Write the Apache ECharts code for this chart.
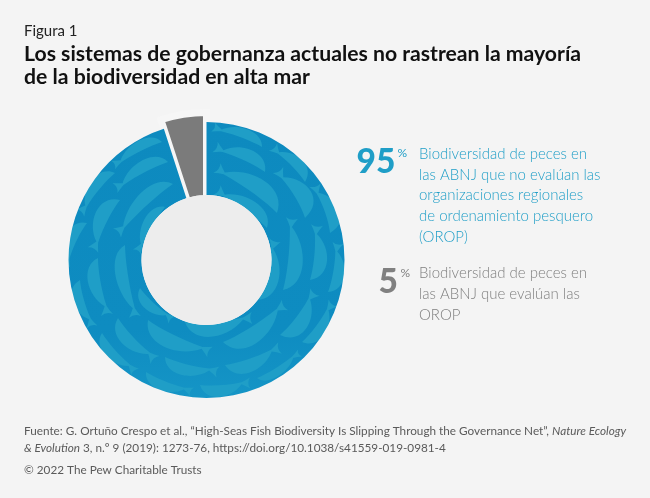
<!DOCTYPE html>
<html><head><meta charset="utf-8">
<style>html,body{margin:0;padding:0;background:#f4f4f4}#c{width:650px;height:498px}</style>
<script src="https://cdn.jsdelivr.net/npm/echarts@6/dist/echarts.min.js"></script>
</head><body><div id="c"></div>
<script>
const categories = ['No evaluada por OROP', 'Evaluada por OROP'];
const shares = [95, 5];
const figureLabel = 'Figura 1';
const titleLines = ['Los sistemas de gobernanza actuales no rastrean la mayoría', 'de la biodiversidad en alta mar'];
const blueLines = ['Biodiversidad de peces en', 'las ABNJ que no evalúan las', 'organizaciones regionales', 'de ordenamiento pesquero', '(OROP)'];
const greyLines = ['Biodiversidad de peces en', 'las ABNJ que evalúan las', 'OROP'];
const sourceLine1 = ['Fuente: G. Ortuño Crespo et al., “High-Seas Fish Biodiversity Is Slipping Through the Governance Net”, ', 'Nature Ecology'];
const sourceLine2 = ['& Evolution', ' 3, n.º 9 (2019): 1273-76, https://doi.org/10.1038/s41559-019-0981-4'];
const copyright = '© 2022 The Pew Charitable Trusts';

const BG = '#f4f4f4', FISH = '#1f9ec7', GREY = '#7b7b7b', HOLE = '#ededed';
const CX = 206.5, CY = 260;

// Decorative school of fish texture: [noseX, noseY, tailX, tailY, bodyWidth]
const fish = [
[162,142,113,165,12],[168,162,115,188,14],[173,184,117,233,16],[115,173,80,213,14],[120,200,93,250,17],
[87,223,65,265,14],[125,245,135,317,15],[165,207,137,252,12],[98,258,107,315,15],[80,280,92,327,14],
[118,318,155,360,15],[102,333,135,372,13],[148,320,210,352,18],[165,357,218,372,14],[146,372,192,392,12],
[140,288,172,320,12],[200,385,250,383,14],[185,322,252,318,18],[223,342,285,305,20],[225,365,280,348,16],
[257,378,300,353,10],[280,335,315,292,18],[302,342,333,303,14],[283,290,292,218,18],[310,280,317,225,16],
[328,292,338,243,14],[255,300,275,240,18],[265,172,215,147,15],[277,213,217,168,20],[267,228,217,190,15],
[262,147,213,127,12],[305,182,273,147,14],[305,218,278,170,20],[330,233,315,185,18]
];

function makeTexture() {
  const cv = document.createElement('canvas');
  cv.width = 650; cv.height = 498;
  const g = cv.getContext('2d');
  const grad = g.createLinearGradient(0, 122, 0, 398);
  grad.addColorStop(0, '#0d8abf'); grad.addColorStop(0.75, '#0e8cc1'); grad.addColorStop(1, '#1595c6');
  g.fillStyle = grad; g.fillRect(0, 0, 650, 498);
  g.fillStyle = FISH;
  fish.forEach(([nx, ny, tx, ty, w]) => {
    const dx = tx - nx, dy = ty - ny, L = Math.hypot(dx, dy), ux = dx / L, uy = dy / L;
    let px = -uy, py = ux;
    const mx = (nx + tx) / 2, my = (ny + ty) / 2;
    if ((mx - CX) * px + (my - CY) * py < 0) { px = -px; py = -py; }
    const tl = Math.min(9, L * 0.17), th = Math.min(6, w * 0.4);
    const bx = tx - ux * tl, by = ty - uy * tl;
    const at = (a, b) => [nx + ux * L * a + px * w * b, ny + uy * L * a + py * w * b];
    const c1 = at(0.1, 1.3), c2 = at(0.62, 1.1), c3 = at(0.55, 0.12), c4 = at(0.2, 0.12);
    g.beginPath();
    g.moveTo(nx, ny);
    g.bezierCurveTo(c1[0], c1[1], c2[0], c2[1], bx + px, by + py);
    g.quadraticCurveTo(bx + ux * tl * 0.5 + px * th * 0.5, by + uy * tl * 0.5 + py * th * 0.5, tx + px * th, ty + py * th);
    g.quadraticCurveTo(tx - ux * tl * 0.4, ty - uy * tl * 0.4, tx - px * th, ty - py * th);
    g.quadraticCurveTo(bx + ux * tl * 0.5 - px * th * 0.5, by + uy * tl * 0.5 - py * th * 0.5, bx - px, by - py);
    g.bezierCurveTo(c3[0], c3[1], c4[0], c4[1], nx, ny);
    g.fill();
  });
  return cv;
}

const none = { color: 'transparent', borderWidth: 0 };
const chart = echarts.init(document.getElementById('c'), null, { renderer: 'canvas' });

const txt = (x, y, text, s) => ({ type: 'text', x, y, silent: true, style: Object.assign({ text, fontFamily: 'Lato' }, s) });
const blueTxt = '#1f9ec7', greyTxt = '#7f7f7f', srcTxt = '#5a5a5a';
const blueY = [147, 168, 188, 209, 230], greyY = [266, 287, 308];
const srcRich = { n: { fontFamily: 'Lato', fontSize: 11.75, fill: srcTxt, color: srcTxt }, i: { fontFamily: 'Lato', fontStyle: 'italic', fontSize: 11.75, fill: srcTxt, color: srcTxt } };

const elements = [
  txt(24, 24, figureLabel, { fontSize: 15, fill: '#222' }),
  txt(24, 44, titleLines[0], { fontSize: 21.2, fontWeight: 700, fill: '#111' }),
  txt(24, 67, titleLines[1], { fontSize: 21.2, fontWeight: 700, fill: '#111' }),
  txt(356.5, 145.5, String(shares[0]), { fontSize: 33.5, fontWeight: 900, fill: '#1f9ec7' }),
  txt(397.5, 147, '%', { fontSize: 12, fill: blueTxt }),
  txt(378.5, 265.5, String(shares[1]), { fontSize: 33.5, fontWeight: 900, fill: '#808080' }),
  txt(400.5, 267, '%', { fontSize: 12, fill: greyTxt }),
  ...blueLines.map((t, i) => txt(419, blueY[i], t, { fontSize: 15, fontWeight: 300, fill: blueTxt })),
  ...greyLines.map((t, i) => txt(419, greyY[i], t, { fontSize: 15, fontWeight: 300, fill: greyTxt })),
  txt(24, 425, `{n|${sourceLine1[0]}}{i|${sourceLine1[1]}}`, { rich: srcRich }),
  txt(24, 442, `{i|${sourceLine2[0]}}{n|${sourceLine2[1]}}`, { rich: srcRich }),
  txt(24, 464, copyright, { fontSize: 11.75, fill: srcTxt })
];

chart.setOption({
  animation: false,
  backgroundColor: BG,
  graphic: { elements },
  series: [
    { type: 'pie', silent: true, center: [CX, CY], radius: [61.5, 147.5], startAngle: 90, clockwise: true, label: { show: false }, labelLine: { show: false },
      data: [
        { name: categories[0], value: shares[0], itemStyle: none },
        { name: categories[1], value: shares[1], itemStyle: { color: GREY, borderColor: '#f6f6f6', borderWidth: 7, borderJoin: 'miter' } }
      ] },
    { type: 'pie', silent: true, center: [CX, CY], radius: [65, 138], startAngle: 90, clockwise: true, label: { show: false }, labelLine: { show: false },
      data: [
        { name: categories[0], value: shares[0], itemStyle: { color: { image: makeTexture(), repeat: 'no-repeat' }, borderWidth: 0 } },
        { name: categories[1], value: shares[1], itemStyle: none }
      ] },
    { type: 'pie', silent: true, center: [CX, CY], radius: [0, 65], label: { show: false }, labelLine: { show: false },
      data: [{ name: 'centro', value: 1, itemStyle: { color: HOLE } }] }
  ]
});
</script></body></html>
